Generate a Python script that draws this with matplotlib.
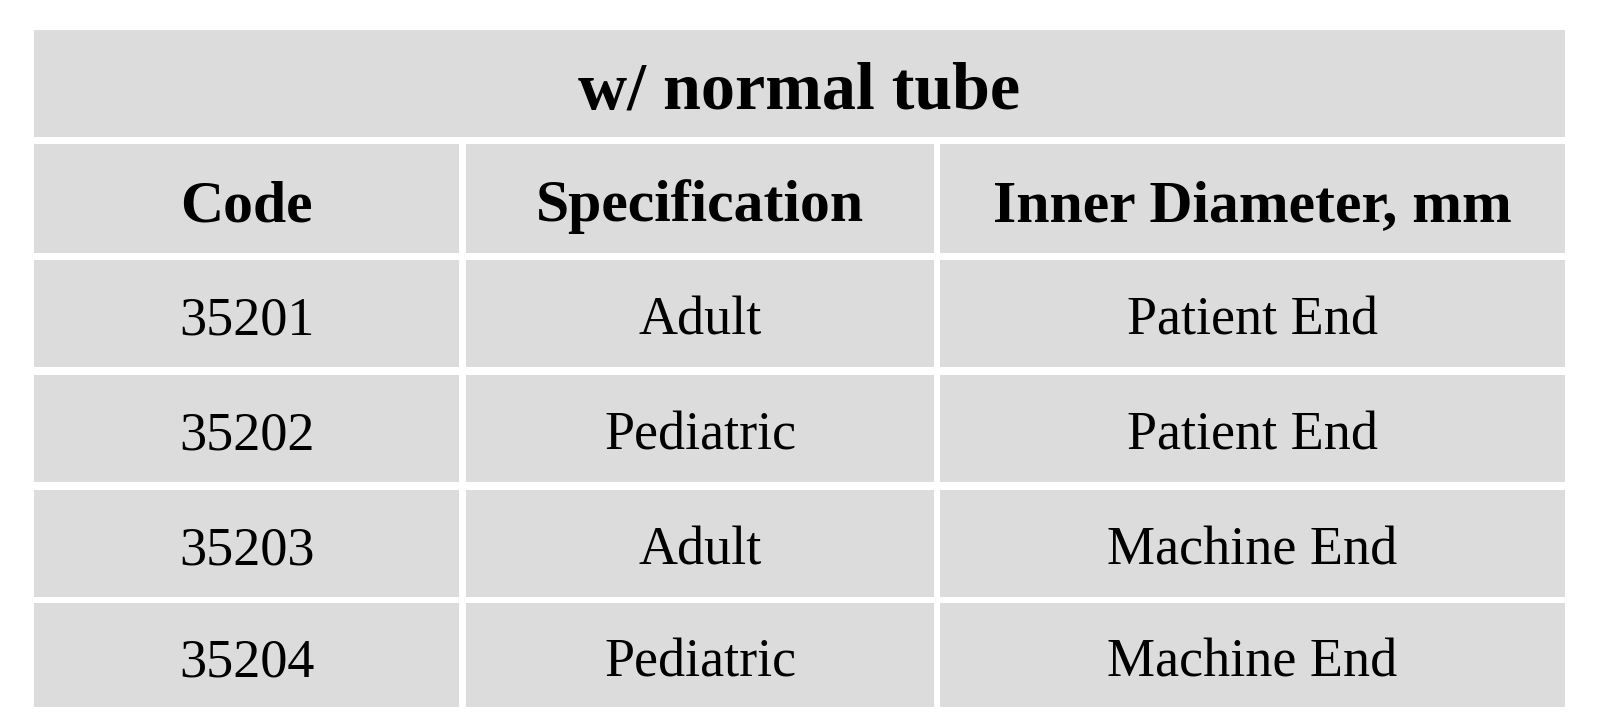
import matplotlib.pyplot as plt
from matplotlib.patches import Rectangle

title = "w/ normal tube"
headers = ["Code", "Specification", "Inner Diameter, mm"]
codes = ["35201", "35202", "35203", "35204"]
specs = ["Adult", "Pediatric", "Adult", "Pediatric"]
ends = ["Patient End", "Patient End", "Machine End", "Machine End"]

# layout in pixels
col_edges = [(34, 459), (466, 934), (940, 1565)]
row_edges = [(144, 253), (260, 367), (375, 482), (490, 597), (603, 707)]
title_box = (34, 30, 1565, 137)
cell_color = "#dcdcdc"
font = "Liberation Serif"

fig = plt.figure(figsize=(16, 7.27), dpi=100)
ax = fig.add_axes([0, 0, 1, 1])
ax.set_xlim(0, 1600)
ax.set_ylim(727, 0)
ax.axis("off")


def cell(x0, y0, x1, y1, txt, size, weight, dy):
    ax.add_patch(Rectangle((x0, y0), x1 - x0, y1 - y0, color=cell_color, lw=0))
    ax.text((x0 + x1) / 2, (y0 + y1) / 2 + dy, txt, ha="center", va="center_baseline",
            fontsize=size, fontweight=weight, family=font, color="black")


cell(*title_box, title, 49, "bold", 2)

rows = [headers] + [list(r) for r in zip(codes, specs, ends)]
for i, row in enumerate(rows):
    y0, y1 = row_edges[i]
    for j, txt in enumerate(row):
        x0, x1 = col_edges[j]
        if i == 0:
            cell(x0, y0, x1, y1, txt, 43, "bold", 2)
        else:
            cell(x0, y0, x1, y1, txt, 39, "normal", 2)

fig.savefig("out.png", dpi=100, facecolor="white")
